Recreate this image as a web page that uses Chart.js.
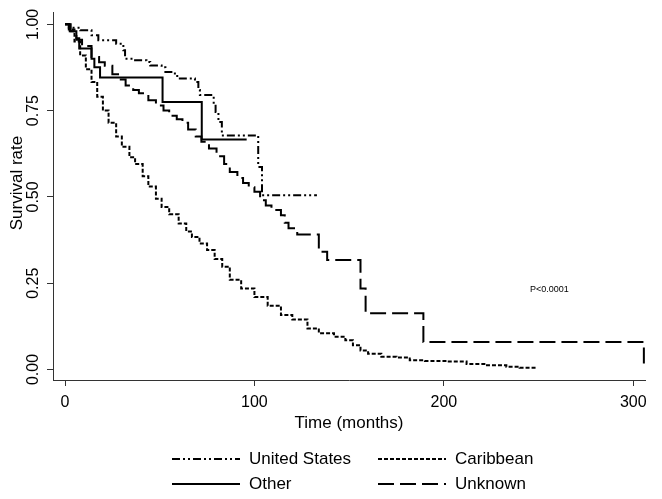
<!DOCTYPE html>
<html>
<head>
<meta charset="utf-8">
<script src="https://cdn.jsdelivr.net/npm/chart.js@4/dist/chart.umd.min.js"></script>
<style>
  html, body { margin: 0; padding: 0; background: #fff; }
  #wrap { width: 662px; height: 499px; }
</style>
</head>
<body>
<div id="wrap"><canvas id="kmChart" width="662" height="499"></canvas></div>
<script>
// --- data (time in months, survival rate) ---
const usTime = [0, 2, 8, 14, 17.6, 27, 30.8, 31.7, 37, 43, 45, 51, 53, 58, 60, 68.6, 70.4, 71.2, 78.5, 79.5, 81, 82.8, 102, 104, 133];
const usSurv = [1, 0.99, 0.983, 0.968, 0.954, 0.944, 0.925, 0.9, 0.896, 0.891, 0.881, 0.876, 0.862, 0.85, 0.843, 0.833, 0.81, 0.795, 0.77, 0.746, 0.717, 0.678, 0.587, 0.505, 0.505];

const caribTime = [0, 2, 5, 8, 11, 14, 17, 20, 23, 27, 30, 34, 37, 41, 44, 48, 51, 55, 60, 64, 67, 71, 75, 79, 83, 87, 93, 100, 107, 114, 120, 128, 134, 142, 148, 152, 156, 160, 167, 175, 182, 190, 202, 212, 222, 233, 240, 248.7];
const caribSurv = [1, 0.985, 0.95, 0.91, 0.87, 0.833, 0.79, 0.75, 0.715, 0.675, 0.645, 0.615, 0.595, 0.56, 0.53, 0.495, 0.471, 0.45, 0.423, 0.4, 0.384, 0.365, 0.346, 0.32, 0.298, 0.26, 0.235, 0.21, 0.185, 0.158, 0.145, 0.119, 0.105, 0.095, 0.085, 0.07, 0.055, 0.046, 0.037, 0.035, 0.027, 0.025, 0.023, 0.016, 0.012, 0.008, 0.005, 0.004];

const otherTime = [0, 2.5, 6, 7.5, 14, 15.5, 18.5, 51.5, 72.2, 95.9];
const otherSurv = [1, 0.98, 0.96, 0.93, 0.9, 0.876, 0.846, 0.775, 0.666, 0.666];

const unknownTime = [0, 3, 6, 9, 14, 18, 21, 25, 28, 32, 36, 39, 44, 48, 52, 55, 59, 62, 65, 69, 72, 76, 80, 84, 87, 91, 94, 97, 100, 103, 106, 109, 114, 116, 118, 122.6, 134, 138.4, 156, 158.7, 189.2, 305.6];
const unknownSurv = [1, 0.98, 0.955, 0.937, 0.905, 0.89, 0.88, 0.855, 0.84, 0.823, 0.81, 0.8, 0.78, 0.765, 0.75, 0.735, 0.725, 0.715, 0.695, 0.675, 0.66, 0.64, 0.618, 0.595, 0.572, 0.555, 0.54, 0.528, 0.515, 0.49, 0.475, 0.462, 0.447, 0.425, 0.409, 0.391, 0.341, 0.317, 0.235, 0.163, 0.08, 0];

const seriesNames = ['United States', 'Caribbean', 'Other', 'Unknown'];
const xTickValues = [0, 100, 200, 300];
const yTickValues = [0, 0.25, 0.5, 0.75, 1];
const yTickLabels = ['0.00', '0.25', '0.50', '0.75', '1.00'];
const yTitle = 'Survival rate';
const pText = 'P<0.0001';
const pAt = { x: 256, y: 0.232 };

const FONT = "'Liberation Sans', Arial, sans-serif";

function toPoints(t, s) {
  return t.map((v, i) => ({ x: v, y: s[i] }));
}

// Kaplan-Meier style: flat until the event time, then drop
function kmLine(label, t, s, dash) {
  return {
    label: label,
    data: toPoints(t, s),
    borderColor: '#000',
    borderWidth: 2,
    borderDash: dash,
    pointRadius: 0,
    stepped: 'before',
    fill: false,
    clip: false
  };
}

// rotated y tick labels + y title, p-value and the two-column legend
const extras = {
  id: 'extras',
  afterDraw(chart) {
    const ctx = chart.ctx;
    const ys = chart.scales.y, xs = chart.scales.x;
    ctx.save();
    ctx.fillStyle = '#000';
    ctx.textAlign = 'center';
    ctx.textBaseline = 'middle';

    ctx.font = '16px ' + FONT;
    yTickValues.forEach((v, i) => {
      ctx.save();
      ctx.translate(34, ys.getPixelForValue(v));
      ctx.rotate(-Math.PI / 2);
      ctx.fillText(yTickLabels[i], 0, 0);
      ctx.restore();
    });

    ctx.save();
    ctx.font = '17px ' + FONT;
    ctx.translate(17, 183);
    ctx.rotate(-Math.PI / 2);
    ctx.fillText(yTitle, 0, 0);
    ctx.restore();

    ctx.font = '9px ' + FONT;
    ctx.textAlign = 'left';
    ctx.fillText(pText, xs.getPixelForValue(pAt.x) - 20, ys.getPixelForValue(pAt.y));

    // legend
    const slots = [[172, 459], [378, 459], [172, 484], [378, 484]];
    ctx.font = '17px ' + FONT;
    chart.data.datasets.forEach((ds, i) => {
      const [lx, ly] = slots[i];
      ctx.beginPath();
      ctx.setLineDash(ds.borderDash || []);
      ctx.lineWidth = 2;
      ctx.strokeStyle = '#000';
      ctx.moveTo(lx, ly);
      ctx.lineTo(lx + 68, ly);
      ctx.stroke();
      ctx.setLineDash([]);
      ctx.fillText(ds.label, lx + 77, ly);
    });
    ctx.restore();
  }
};

new Chart(document.getElementById('kmChart'), {
  type: 'line',
  data: {
    datasets: [
      kmLine(seriesNames[0], usTime, usSurv, [8, 3, 2, 3, 2, 3]),
      kmLine(seriesNames[1], caribTime, caribSurv, [4, 2]),
      kmLine(seriesNames[2], otherTime, otherSurv, []),
      kmLine(seriesNames[3], unknownTime, unknownSurv, [16, 6])
    ]
  },
  options: {
    responsive: false,
    devicePixelRatio: 1,
    animation: false,
    layout: { padding: { top: 12, right: 17, left: 0, bottom: 65 } },
    plugins: { legend: { display: false }, tooltip: { enabled: false } },
    scales: {
      x: {
        type: 'linear',
        min: -6.34,
        max: 306.2,
        afterBuildTicks: (s) => { s.ticks = xTickValues.map(v => ({ value: v })); },
        afterFit: (s) => { s.height = 54; },
        ticks: { color: '#000', font: { family: FONT, size: 16 }, padding: 7, maxRotation: 0 },
        grid: { drawOnChartArea: false, tickLength: 6, color: '#333' },
        border: { color: '#333', width: 1 },
        title: { display: true, text: 'Time (months)', color: '#000', font: { family: FONT, size: 17 }, padding: { top: 0, bottom: 0 } }
      },
      y: {
        min: -0.0304,
        max: 1.0357,
        afterBuildTicks: (s) => { s.ticks = yTickValues.map(v => ({ value: v })); },
        afterFit: (s) => { s.width = 53; },
        ticks: { display: false },
        grid: { drawOnChartArea: false, tickLength: 6, color: '#333' },
        border: { color: '#333', width: 1 }
      }
    }
  },
  plugins: [extras]
});
</script>
</body>
</html>
